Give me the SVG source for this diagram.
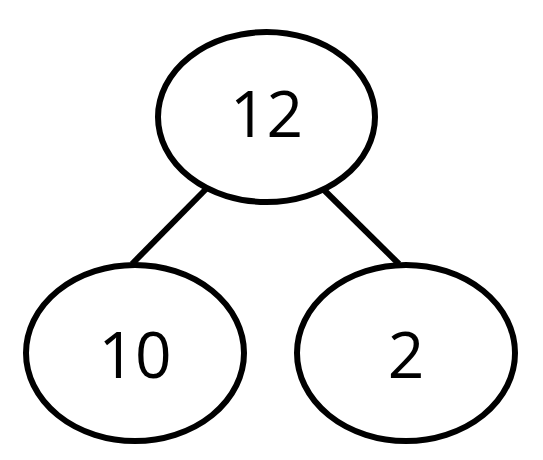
<svg xmlns="http://www.w3.org/2000/svg" width="543" height="460" viewBox="0 0 543 460">
<style>
.n{fill:#fff;stroke:#000;stroke-width:6}
.c{stroke:#000;stroke-width:6;fill:none}
.t{font-family:"Open Sans","Liberation Sans",sans-serif;font-size:64px;text-anchor:middle;fill:#000}
</style>
<rect width="543" height="460" fill="#fff"/>
<g id="connectors">
<line class="c" x1="207" y1="188" x2="132" y2="264"/>
<line class="c" x1="322" y1="188" x2="399" y2="264"/>
</g>
<g id="n12"><ellipse class="n" cx="266.5" cy="117" rx="108.5" ry="85"/><text class="t" x="266.5" y="137">12</text></g>
<g id="n10"><ellipse class="n" cx="135" cy="353" rx="109" ry="88"/><text class="t" x="135" y="378">10</text></g>
<g id="n2"><ellipse class="n" cx="406" cy="353" rx="109" ry="88"/><text class="t" x="406" y="378">2</text></g>
</svg>
